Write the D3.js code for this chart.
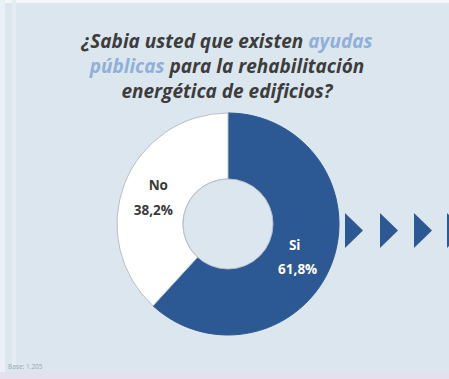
<!DOCTYPE html>
<html><head><meta charset="utf-8">
<script src="https://cdn.jsdelivr.net/npm/d3@7"></script>
<style>
html,body{margin:0;padding:0;background:#dce6ef;}
svg{display:block;}
</style></head>
<body>
<svg id="c" width="449" height="379"></svg>
<script>
const categories = ["Si", "No"];
const values = [61.8, 38.2];
const valueLabels = ["61,8%", "38,2%"];
const titleLines = [
  [{t:"¿Sabia usted que existen ", hl:false}, {t:"ayudas", hl:true}],
  [{t:"públicas", hl:true}, {t:" para la rehabilitación", hl:false}],
  [{t:"energética de edificios?", hl:false}]
];
const footer = "Base: 1.205";

const W = 449, H = 379;
const svg = d3.select("#c");
svg.append("rect").attr("width", W).attr("height", H).attr("fill", "#dce6ef");
svg.append("rect").attr("width", W).attr("height", 3).attr("fill", "#f4f7fa");
svg.append("rect").attr("x", 0).attr("width", 5).attr("height", H).attr("fill", "#eaf0f6");
svg.append("rect").attr("x", 12).attr("width", 4).attr("height", 368).attr("fill", "#e5ecf4");
svg.append("rect").attr("y", 372).attr("width", W).attr("height", 7).attr("fill", "#e4e0ee");

// Title
const title = svg.append("text")
  .attr("text-anchor", "middle")
  .attr("font-family", "'Open Sans', sans-serif")
  .attr("font-style", "italic")
  .attr("font-weight", "bold")
  .attr("font-size", 19)
  .attr("fill", "#3d3d3d");
titleLines.forEach((line, i) => {
  const tl = title.append("tspan").attr("x", 227).attr("y", 48 + i * 25);
  line.forEach(seg => {
    tl.append("tspan").text(seg.t).attr("fill", seg.hl ? "#8fb0d8" : "#3d3d3d");
  });
});

// Donut
const cx = 228, cy = 224, rOuter = 111, rInner = 45;
const colors = d3.scaleOrdinal().domain(categories).range(["#2c5893", "#ffffff"]);
const pie = d3.pie().sort(null).value(d => d)(values);
const arc = d3.arc().innerRadius(rInner).outerRadius(rOuter);
const g = svg.append("g").attr("transform", `translate(${cx},${cy})`);
g.selectAll("path.slice").data(pie).join("path")
  .attr("class", "slice")
  .attr("d", arc)
  .attr("fill", (d, i) => colors(categories[i]))
  .attr("stroke", (d, i) => i === 0 ? "#2c5893" : "#b9bec6")
  .attr("stroke-width", 1);
g.append("circle").attr("r", rInner).attr("fill", "#dce6ef").attr("stroke", "#b9bec6").attr("stroke-width", 1);

const labelArc = d3.arc().innerRadius(78).outerRadius(78);
pie.forEach((d, i) => {
  const [x, y] = labelArc.centroid(d);
  const t = g.append("text")
    .attr("text-anchor", "middle")
    .attr("font-family", "'Open Sans', sans-serif")
    .attr("font-weight", "bold")
    .attr("font-size", 13.5)
    .attr("fill", i === 0 ? "#ffffff" : "#3a3a3a");
  t.append("tspan").attr("x", x + (i === 0 ? -6 : 3)).attr("y", y - 4 + (i === 0 ? 2 : -2)).text(categories[i]);
  t.append("tspan").attr("x", x + (i === 0 ? -3 : -2)).attr("y", y + 21 + (i === 0 ? 1 : -2)).text(valueLabels[i]);
});

// Arrows
[345, 380, 414, 447].forEach(x => {
  svg.append("path")
    .attr("d", `M${x},213 L${x + 18},230.5 L${x},248 Z`)
    .attr("fill", "#2c5893");
});

// Footer
svg.append("text").attr("x", 8).attr("y", 369)
  .attr("font-family", "'Open Sans', sans-serif")
  .attr("font-size", 6.5).attr("fill", "#9aa5b3").text(footer);
</script>
</body></html>
